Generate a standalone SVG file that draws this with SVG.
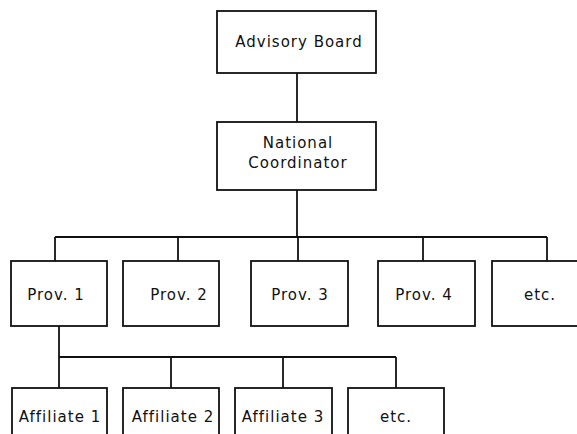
<svg xmlns="http://www.w3.org/2000/svg" width="577" height="434" viewBox="0 0 577 434">
<style>
rect{fill:#fff;stroke:#111;stroke-width:1.8}
.c line{stroke:#111;stroke-width:1.8}
text{font-family:"DejaVu Sans","Liberation Sans",sans-serif;font-size:15px;letter-spacing:1px;fill:#111;text-anchor:middle}
</style>
<rect x="0" y="0" width="577" height="434" style="stroke:none"/>
<g class="c" id="connectors">
<line x1="297" y1="73" x2="297" y2="122"/>
<line x1="297" y1="190" x2="297" y2="237"/>
<line x1="55" y1="237" x2="547" y2="237"/>
<line x1="55" y1="237" x2="55" y2="261"/>
<line x1="178" y1="237" x2="178" y2="261"/>
<line x1="298" y1="237" x2="298" y2="261"/>
<line x1="423" y1="237" x2="423" y2="261"/>
<line x1="547" y1="237" x2="547" y2="261"/>
<line x1="59" y1="326" x2="59" y2="357"/>
<line x1="59" y1="357" x2="396" y2="357"/>
<line x1="59" y1="357" x2="59" y2="388"/>
<line x1="171" y1="357" x2="171" y2="388"/>
<line x1="283" y1="357" x2="283" y2="388"/>
<line x1="396" y1="357" x2="396" y2="388"/>
</g>
<g id="advisory"><rect x="217" y="11" width="159" height="62"/><text x="299" y="47">Advisory Board</text></g>
<g id="national"><rect x="217" y="122" width="159" height="68"/><text x="298" y="148">National</text><text x="298" y="168">Coordinator</text></g>
<g id="prov1"><rect x="11" y="261" width="96" height="65"/><text x="56" y="300">Prov. 1</text></g>
<g id="prov2"><rect x="123" y="261" width="96" height="65"/><text x="179" y="300">Prov. 2</text></g>
<g id="prov3"><rect x="251" y="261" width="97" height="65"/><text x="300" y="300">Prov. 3</text></g>
<g id="prov4"><rect x="378" y="261" width="97" height="65"/><text x="424" y="300">Prov. 4</text></g>
<g id="provetc"><rect x="492" y="261" width="90" height="65"/><text x="540" y="300">etc.</text></g>
<g id="aff1"><rect x="12" y="388" width="95" height="50"/><text x="60" y="422">Affiliate 1</text></g>
<g id="aff2"><rect x="123" y="388" width="96" height="50"/><text x="173" y="422">Affiliate 2</text></g>
<g id="aff3"><rect x="235" y="388" width="97" height="50"/><text x="283" y="422">Affiliate 3</text></g>
<g id="affetc"><rect x="348" y="388" width="96" height="50"/><text x="396" y="422">etc.</text></g>
</svg>
